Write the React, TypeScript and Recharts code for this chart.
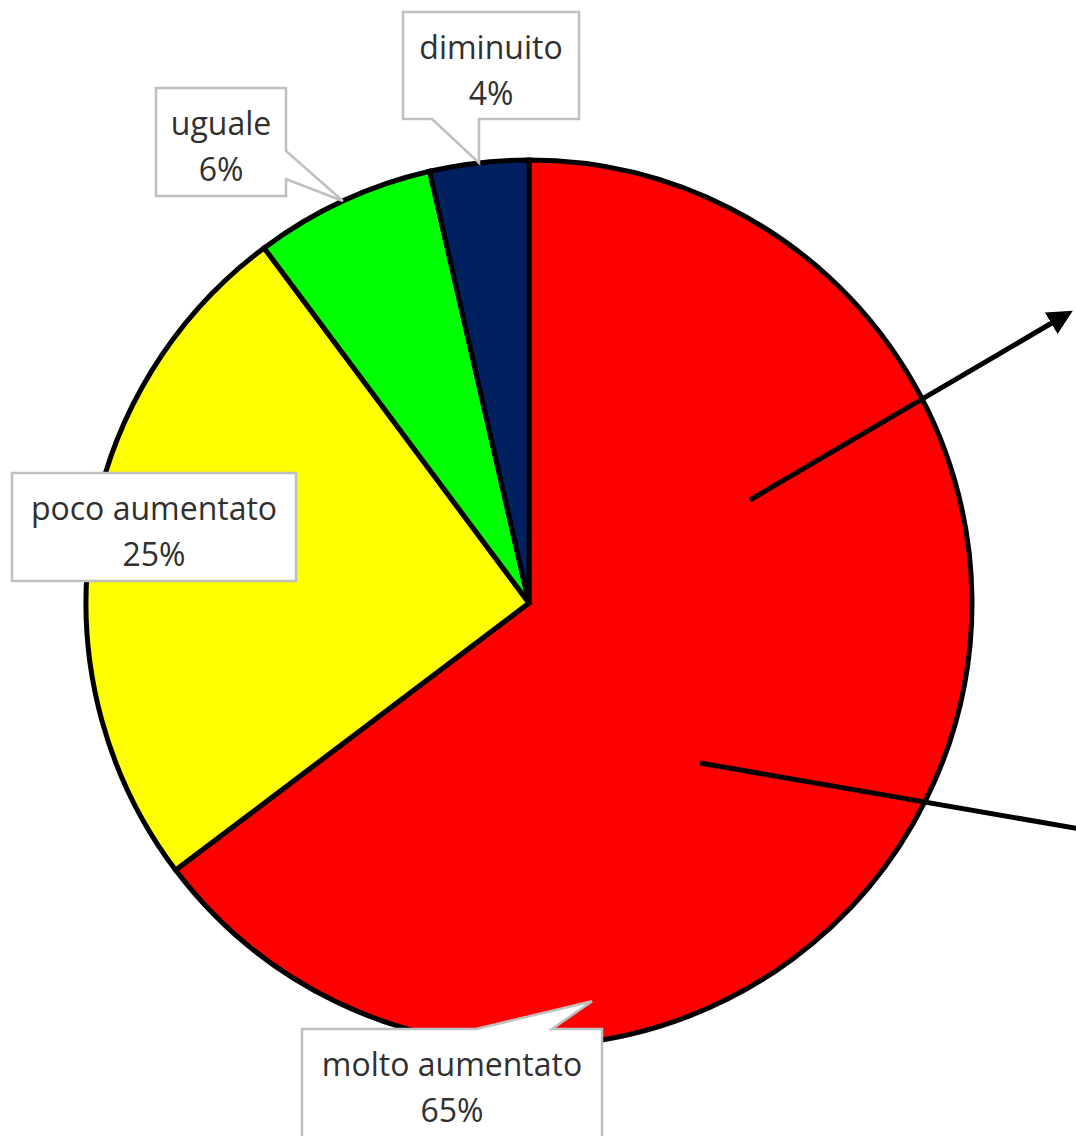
import React from 'react';
import { PieChart, Pie, Cell } from 'recharts';

// ---- data ----
const categories = ['molto aumentato', 'poco aumentato', 'uguale', 'diminuito'];
const shares = [64.7, 25.1, 6.6, 3.6];
const shareLabels = ['65%', '25%', '6%', '4%'];
const sliceColors = ['#ff0000', '#ffff00', '#00ff00', '#002060'];

const data = categories.map((name, i) => ({ name, value: shares[i], pct: shareLabels[i] }));

// ---- layout of callout boxes (relative to the pie centre) ----
type Ptr = { edge: 'top' | 'right' | 'bottom'; a: number; b: number; tipAngle?: number; tipR?: number };
const calloutLayout: { dx: number; dy: number; w: number; h: number; ptr?: Ptr }[] = [
  { dx: -227, dy: 426, w: 300, h: 110, ptr: { edge: 'top', a: 174, b: 250, tipAngle: -81, tipR: 0.91 } },
  { dx: -517, dy: -130, w: 284, h: 108 },
  { dx: -373, dy: -515, w: 130, h: 108, ptr: { edge: 'right', a: 63, b: 91 } },
  { dx: -126, dy: -591, w: 176, h: 107, ptr: { edge: 'bottom', a: 29, b: 76 } },
];

const RAD = Math.PI / 180;
const FONT = "'Open Sans', 'DejaVu Sans', sans-serif";
const FONT_SIZE = 32;

function calloutPath(x: number, y: number, w: number, h: number, ptr: Ptr | undefined, tx: number, ty: number) {
  if (!ptr) return `M${x},${y}H${x + w}V${y + h}H${x}Z`;
  const { a, b } = ptr;
  if (ptr.edge === 'top') return `M${x},${y}H${x + a}L${tx},${ty}L${x + b},${y}H${x + w}V${y + h}H${x}Z`;
  if (ptr.edge === 'right') return `M${x},${y}H${x + w}V${y + a}L${tx},${ty}L${x + w},${y + b}V${y + h}H${x}Z`;
  return `M${x},${y}H${x + w}V${y + h}H${x + b}L${tx},${ty}L${x + a},${y + h}H${x}Z`;
}

const renderLabel = (props: any) => {
  const { cx, cy, midAngle, outerRadius, index, name } = props;
  const L = calloutLayout[index];
  const x = cx + L.dx;
  const y = cy + L.dy;
  let tx = 0;
  let ty = 0;
  if (L.ptr) {
    const ang = L.ptr.tipAngle !== undefined ? L.ptr.tipAngle : midAngle;
    const r = outerRadius * (L.ptr.tipR !== undefined ? L.ptr.tipR : 1);
    tx = cx + r * Math.cos(-ang * RAD);
    ty = cy + r * Math.sin(-ang * RAD);
  }
  const mid = x + L.w / 2;
  return (
    <g key={`lbl-${index}`}>
      <path d={calloutPath(x, y, L.w, L.h, L.ptr, tx, ty)} fill="#ffffff" stroke="#bfbfbf" strokeWidth={2.5} strokeLinejoin="miter" />
      <text x={mid} y={y + 34} textAnchor="middle" dominantBaseline="central" fontFamily={FONT} fontSize={FONT_SIZE} fill="#303030">
        {name}
      </text>
      <text x={mid} y={y + 80} textAnchor="middle" dominantBaseline="central" fontFamily={FONT} fontSize={FONT_SIZE} fill="#303030">
        {data[index].pct}
      </text>
    </g>
  );
};

// annotation arrows drawn over the chart
const Arrows = () => (
  <svg width={1076} height={1136} style={{ position: 'absolute', left: 0, top: 0, pointerEvents: 'none' }}>
    <defs>
      <marker id="arrowHead" markerWidth="5" markerHeight="5" refX="2.5" refY="2.5" orient="auto" markerUnits="strokeWidth">
        <path d="M0,0 L5,2.5 L0,5 Z" fill="#000" />
      </marker>
    </defs>
    <line x1={750} y1={500} x2={1062} y2={317} stroke="#000" strokeWidth={5} markerEnd="url(#arrowHead)" />
    <line x1={700} y1={763} x2={1080} y2={829} stroke="#000" strokeWidth={5} />
  </svg>
);

export default function App() {
  return (
    <div style={{ position: 'absolute', left: 0, top: 0, width: 1076, height: 1136, background: '#fff' }}>
      <PieChart width={1076} height={1136} margin={{ top: 0, right: 0, bottom: 0, left: 0 }}>
        <Pie
          data={data}
          dataKey="value"
          nameKey="name"
          cx={529}
          cy={603}
          outerRadius={443}
          startAngle={90}
          endAngle={-270}
          stroke="#000"
          strokeWidth={5}
          label={renderLabel}
          labelLine={false}
          isAnimationActive={false}
        >
          {data.map((d, i) => (
            <Cell key={d.name} fill={sliceColors[i]} stroke="#000" strokeWidth={5} />
          ))}
        </Pie>
      </PieChart>
      <Arrows />
    </div>
  );
}
